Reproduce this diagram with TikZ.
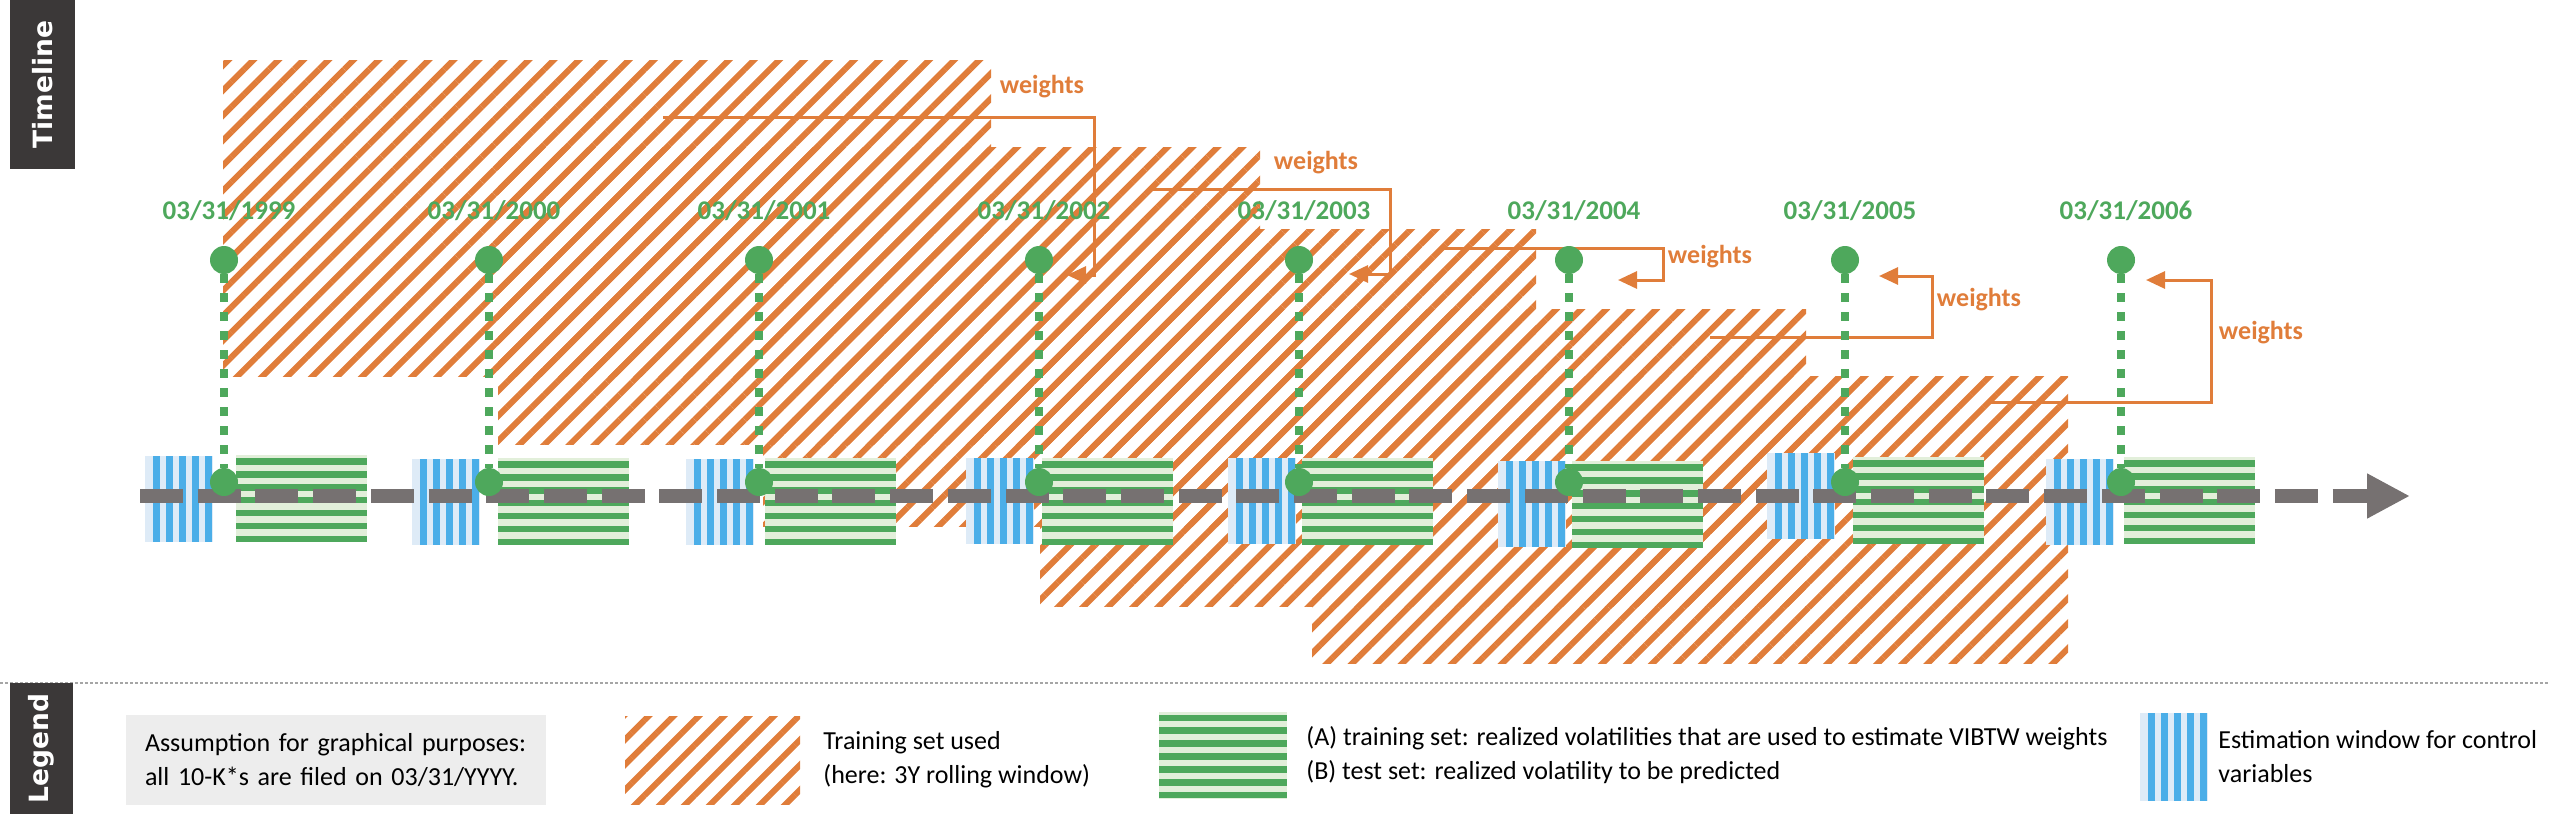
\documentclass[tikz,border=0pt]{standalone}
\usepackage{fontspec}
\setmainfont{Carlito}
\newfontfamily\sidefont{DejaVu Sans}
\usetikzlibrary{arrows.meta, positioning, patterns.meta}
\definecolor{TrainOrange}{HTML}{E07D3A}
\definecolor{DateGreen}{HTML}{4EA85C}
\definecolor{EstBlue}{HTML}{4BAEE8}
\definecolor{EstLight}{HTML}{DEEBF7}
\definecolor{VolGreen}{HTML}{4EA85C}
\definecolor{VolLight}{HTML}{E2EFDA}
\definecolor{AxisGray}{HTML}{767171}
\definecolor{SideDark}{HTML}{3B3838}
\definecolor{NoteGray}{HTML}{EDEDED}

\begin{document}
\begin{tikzpicture}[x=1pt, y=-1pt,
  side/.style={rectangle, fill=SideDark, text=white, inner sep=0pt,
    font=\sidefont\bfseries\fontsize{26.5}{30}\selectfont},
  train/.style={pattern={Lines[angle=45, distance=17.7pt, line width=6pt]}, pattern color=TrainOrange},
  estbox/.style={rectangle, inner sep=0pt, minimum width=68pt, minimum height=86pt, fill=EstLight,
    path picture={\foreach \s in {8,21,34,47,60}
      \fill[EstBlue] ([xshift=\s pt]path picture bounding box.north west)
        rectangle ([xshift=\s pt+6.7pt]path picture bounding box.south west);}},
  volbox/.style={rectangle, inner sep=0pt, minimum width=131pt, minimum height=87pt, fill=VolLight,
    path picture={\foreach \s in {3,15.9,28.8,41.7,54.6,67.5,80.4}
      \fill[VolGreen] ([yshift=-\s pt]path picture bounding box.north west)
        rectangle ([yshift=-\s pt-6.5pt]path picture bounding box.north east);}},
  dot/.style={circle, fill=DateGreen, minimum size=28pt, inner sep=0pt},
  date/.style={text=DateGreen, inner sep=0pt, font=\bfseries\fontsize{27}{30}\selectfont},
  stem/.style={DateGreen, line width=8pt, dash pattern=on 9pt off 10pt},
  wline/.style={TrainOrange, line width=3pt, -{Triangle[length=19pt, width=17pt]}},
  wlabel/.style={text=TrainOrange, inner sep=0pt, font=\bfseries\fontsize{26}{30}\selectfont},
  axis/.style={AxisGray, line width=14pt, dash pattern=on 43pt off 14.7pt, -{Triangle[length=43pt, width=42pt]}},
  legtext/.style={inner sep=0pt, align=left, font=\fontsize{26}{34}\selectfont},
  note/.style={rectangle, fill=NoteGray, minimum width=420pt, minimum height=90pt, text width=382pt,
    inner xsep=19pt, align=left, font=\fontsize{26}{34}\selectfont}
]
\useasboundingbox (0,0) rectangle (2550,814);

\fill[train] (223,60) rectangle (991,376);
\fill[train] (498,147) rectangle (1260,444);
\fill[train] (763,229) rectangle (1536,526);
\fill[train] (1040,309) rectangle (1806,606);
\fill[train] (1312,376) rectangle (2068,663);

\coordinate (w02) at (663,117);  \coordinate (t02) at (1067,275);
\coordinate (w03) at (1151,189); \coordinate (t03) at (1349,274);
\coordinate (w04) at (1442,248); \coordinate (t04) at (1618,280);
\coordinate (w05) at (1710,337); \coordinate (t05) at (1879,276);
\coordinate (w06) at (1990,402); \coordinate (t06) at (2146,280);
\draw[wline] (w02) -- ++(431,0) |- (t02);
\draw[wline] (w03) -- ++(239,0) |- (t03);
\draw[wline] (w04) -- ++(221,0) |- (t04);
\draw[wline] (w05) -- ++(222,0) |- (t05);
\draw[wline] (w06) -- ++(221,0) |- (t06);
\node[wlabel] (wl02) at (1042,87)  {weights};
\node[wlabel] (wl03) at (1316,163) {weights};
\node[wlabel] (wl04) at (1710,257) {weights};
\node[wlabel] (wl05) at (1979,300) {weights};
\node[wlabel] (wl06) at (2261,333) {weights};

\foreach \yr/\bx/\by/\gx/\gy in {1999/145/456/236/455, 2000/412/459/498/458, 2001/686/459/765/458,
    2002/966/458/1042/458, 2003/1228/458/1302/458, 2004/1498/461/1572/461,
    2005/1767/453/1853/457, 2006/2046/459/2124/457} {
  \node[estbox, anchor=north west] (est\yr) at (\bx,\by) {};
  \node[volbox, anchor=north west] (vol\yr) at (\gx,\gy) {};
}

\coordinate (tlstart) at (140,496);
\coordinate (tlend) at (2410,496);
\draw[axis] (tlstart) -- (tlend);

\foreach \yr/\dx in {1999/224, 2000/489, 2001/759, 2002/1039, 2003/1299, 2004/1569, 2005/1845, 2006/2121} {
  \node[dot] (top\yr) at (\dx,260) {};
  \node[dot] (bot\yr) at (\dx,482) {};
  \draw[stem] (top\yr) -- (bot\yr);
  \node[date] (date\yr) at (\dx+5,211) {03/31/\yr};
}

\node[side, rotate=90, minimum width=169pt, minimum height=65pt] (tlside) at (42.5,84.5) {Timeline};
\draw[gray!70, line width=1.5pt, dash pattern=on 3pt off 2pt] (0,683) -- (2550,683);
\node[side, rotate=90, minimum width=131pt, minimum height=63pt] (legside) at (41.5,748.5) {Legend};

\node[note] (note) at (336,760) {Assumption for graphical purposes:\\all 10-K*s are filed on 03/31/YYYY.};
\node[rectangle, train, inner sep=0pt, minimum width=175pt, minimum height=88pt] (trainkey) at (712.5,760) {};
\node[legtext, right=23pt of trainkey] (traintext) {Training set used\\(here: 3Y rolling window)};
\node[volbox, minimum width=128pt] (volkey) at (1223,755) {};
\node[legtext, right=19pt of volkey] (voltext) {(A) training set: realized volatilities that are used to estimate VIBTW weights\\(B) test set: realized volatility to be predicted};
\node[estbox, minimum height=88pt] (estkey) at (2174,757) {};
\node[legtext, right=10pt of estkey] (esttext) {Estimation window for control\\variables};
\end{tikzpicture}
\end{document}
